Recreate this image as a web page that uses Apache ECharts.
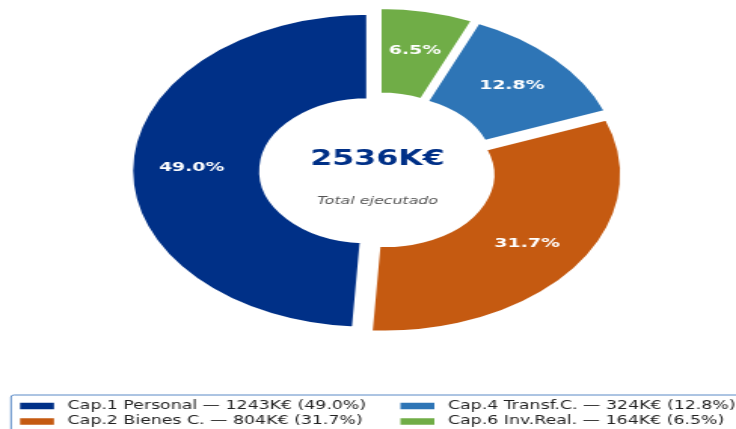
<!DOCTYPE html>
<html>
<head>
<meta charset="utf-8">
<script src="https://cdn.jsdelivr.net/npm/echarts@6/dist/echarts.min.js"></script>
<style>
  html, body { margin: 0; padding: 0; background: #fff; overflow: hidden; }
  /* the reference is horizontally stretched, so draw narrow and widen */
  #chart {
    width: 488px;
    height: 429px;
    transform: scaleX(1.5082);
    transform-origin: 0 0;
  }
</style>
</head>
<body>
<div id="chart"></div>
<script>
const names = ['Cap.1 Personal', 'Cap.2 Bienes C.', 'Cap.4 Transf.C.', 'Cap.6 Inv.Real.']
const values = [1243, 804, 324, 164]
const colors = ['#003087', '#c55a11', '#2e75b6', '#70ad47']
const totalLabel = '2536K€'
const subLabel = 'Total ejecutado'

const sum = values.reduce((a, b) => a + b, 0)
const pct = v => (v / sum * 100).toFixed(1)
const valueOf = {}
names.forEach((n, i) => { valueOf[n] = values[i] })

const font = 'DejaVu Sans'
const chart = echarts.init(document.getElementById('chart'))

const legendBase = {
  orient: 'vertical',
  top: 399,
  padding: 0,
  itemGap: 1.5,
  itemWidth: 24.5,
  itemHeight: 8.5,
  icon: 'rect',
  selectedMode: false,
  formatter: n => `${n} — ${valueOf[n]}K€ (${pct(valueOf[n])}%)`,
  textStyle: {
    fontFamily: font,
    fontSize: 11.5,
    lineHeight: 14,
    color: '#222',
    padding: [0, 0, 0, 3]
  }
}

chart.setOption({
  animation: false,
  legend: [
    { ...legendBase, left: 11.3, data: [names[0], names[1]] },
    { ...legendBase, left: 263.5, data: [names[2], names[3]] }
  ],
  graphic: [
    {
      type: 'rect',
      shape: { x: 7.3, y: 395, width: 500, height: 60, r: 2 },
      style: { fill: 'none', stroke: '#5a8ac6', lineWidth: 1 },
      z: -1
    },
    {
      type: 'text',
      x: 250.3, y: 160,
      style: {
        text: totalLabel,
        fontFamily: font, fontSize: 21, fontWeight: 'bold',
        fill: '#003087', align: 'center', verticalAlign: 'middle'
      }
    },
    {
      type: 'text',
      x: 250.3, y: 201,
      style: {
        text: subLabel,
        fontFamily: font, fontSize: 10.5, fontStyle: 'italic',
        fill: '#555', align: 'center', verticalAlign: 'middle'
      }
    }
  ],
  series: [{
    type: 'pie',
    center: [250.3, 171],
    radius: [71, 157.5],
    startAngle: 90,
    clockwise: false,
    selectedMode: 'multiple',
    selectedOffset: 6,
    avoidLabelOverlap: false,
    itemStyle: { borderColor: '#fff', borderWidth: 3 },
    emphasis: { disabled: true },
    label: {
      show: true,
      position: 'inside',
      formatter: p => pct(p.value) + '%',
      color: '#fff',
      fontFamily: font,
      fontSize: 12.5,
      fontWeight: 'bold',
      padding: [3, 0, 0, 0]
    },
    labelLine: { show: false },
    data: names.map((n, i) => ({
      name: n,
      value: values[i],
      selected: true,
      itemStyle: { color: colors[i] }
    }))
  }]
})
</script>
</body>
</html>
